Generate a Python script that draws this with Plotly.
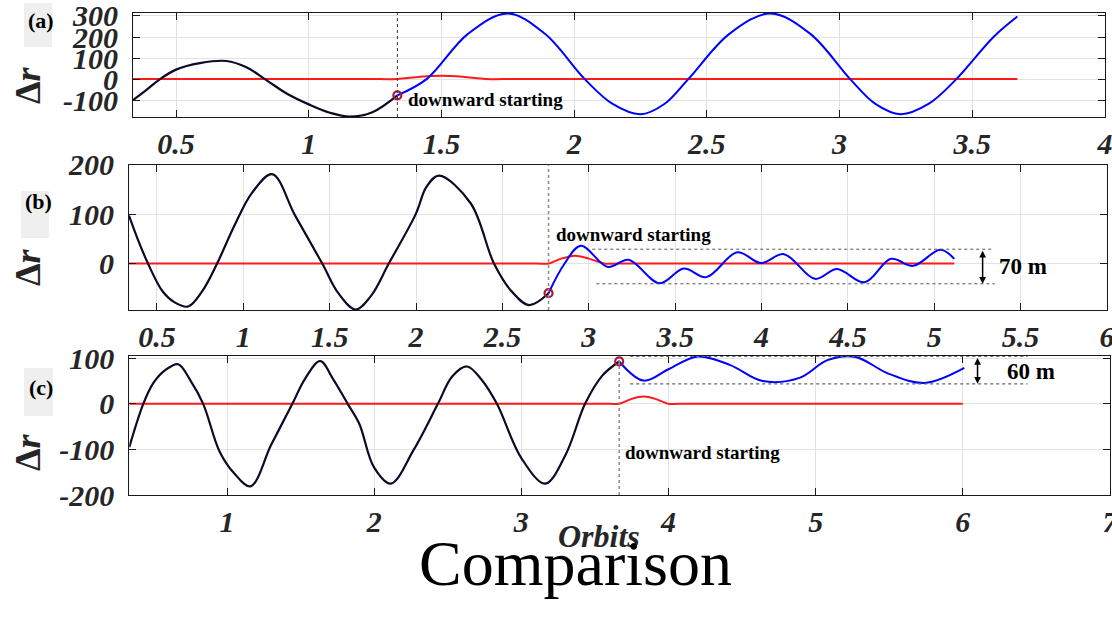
import plotly.graph_objects as go

W, H = 1112, 618

# ---------------- panel (a) ----------------
a_black_x = [0.338, 0.39, 0.44, 0.50, 0.59, 0.69, 0.767, 0.835, 0.92, 1.0, 1.08, 1.154, 1.24, 1.334]
a_black_y = [-100, -50, 0, 45, 76, 86, 55, 0, -71, -120, -160, -178, -157, -77]
a_blue_x = [1.334, 1.444, 1.60, 1.75, 1.89, 2.04, 2.145, 2.25, 2.34, 2.43, 2.585, 2.74, 2.89,
            3.04, 3.135, 3.23, 3.335, 3.44, 3.58, 3.67]
a_blue_y = [-77, 0, 215, 312, 215, 0, -118, -167, -118, 0, 215, 312, 215,
            0, -118, -167, -118, 0, 200, 297]
a_red_x = [0.338, 0.8, 1.27, 1.334, 1.42, 1.50, 1.58, 1.665, 1.73, 2.5, 3.67]
a_red_y = [0, 0, 0, 0, 11, 16, 11, 0, 0, 0, 0]
a_start = (1.334, -77)
a_xticks = [0.5, 1, 1.5, 2, 2.5, 3, 3.5, 4]
a_yticks = [-100, 0, 100, 200, 300]

# ---------------- panel (b) ----------------
b_black_x = [0.338, 0.39, 0.448, 0.53, 0.60, 0.68, 0.76, 0.848, 0.95, 1.05, 1.167, 1.30, 1.457,
             1.55, 1.65, 1.74, 1.842, 1.998, 2.06, 2.132, 2.316, 2.451, 2.55, 2.654, 2.767]
b_black_y = [97, 48, 0, -55, -78, -87, -57, 0, 78, 143, 181, 97, 0,
             -60, -93, -65, 0, 100, 155, 178, 122, 0, -55, -84, -60]
b_blue_x = [2.767, 2.86, 2.954, 3.11, 3.23, 3.41, 3.55, 3.68, 3.86, 3.996, 4.13, 4.31, 4.437,
            4.596, 4.75, 4.878, 5.036, 5.116]
b_blue_y = [-60, 0, 36, -7, 7.5, -40, -10, -27.5, 23, 1, 19, -31, -11,
            -38, 9.5, -4.7, 28, 9.5]
b_red_x = [0.338, 1.2, 2.2, 2.70, 2.767, 2.84, 2.92, 3.0, 3.09, 3.16, 4.0, 5.116]
b_red_y = [0, 0, 0, 0, 0, 10, 16, 10, 0, 0, 0, 0]
b_start = (2.767, -60)
b_band = (-41, 29)          # 70 m envelope
b_xticks = [0.5, 1, 1.5, 2, 2.5, 3, 3.5, 4, 4.5, 5, 5.5, 6]
b_yticks = [0, 100, 200]

# ---------------- panel (c) ----------------
c_black_x = [0.336, 0.431, 0.50, 0.58, 0.668, 0.75, 0.838, 0.95, 1.05, 1.16, 1.30, 1.444, 1.53,
             1.633, 1.72, 1.82, 1.898, 2.0, 2.113, 2.27, 2.433, 2.53, 2.631, 2.73, 2.834,
             3.0, 3.162, 3.30, 3.433, 3.55, 3.665]
c_black_y = [-95, 0, 46, 74, 87, 52, 0, -105, -153, -181, -90, 0, 55,
             94, 55, 0, -43, -140, -175, -100, 0, 60, 82, 53, 0,
             -119, -175, -112, 0, 62, 93]
c_blue_x = [3.665, 3.83, 4.0, 4.2, 4.42, 4.64, 4.89, 5.08, 5.27, 5.49, 5.74, 6.01]
c_blue_y = [93, 51, 76, 104, 85, 50, 57, 96, 103, 67, 46, 79]
c_red_x = [0.336, 1.5, 3.0, 3.60, 3.665, 3.75, 3.83, 3.91, 4.0, 4.07, 5.0, 6.0]
c_red_y = [0, 0, 0, 0, 0, 11, 16, 11, 0, 0, 0, 0]
c_start = (3.665, 93)
c_band = (44, 104)          # 60 m envelope
c_xticks = [1, 2, 3, 4, 5, 6, 7]
c_yticks = [-200, -100, 0, 100]

BLACK = "#0b0b26"
BLUE = "#0000ff"
RED = "#ff1a1a"
RING = "#a8173c"
TXT = "#262626"
GRID = "#e2e2e2"
SERIF = "Liberation Serif"


def fmt(v):
    return f"{v:g}"


def px(x):
    return x / W


def py(y):
    return 1 - y / H


fig = go.Figure()

panels = [
    ("x", "y", a_black_x, a_black_y, a_blue_x, a_blue_y, a_red_x, a_red_y, a_start),
    ("x2", "y2", b_black_x, b_black_y, b_blue_x, b_blue_y, b_red_x, b_red_y, b_start),
    ("x3", "y3", c_black_x, c_black_y, c_blue_x, c_blue_y, c_red_x, c_red_y, c_start),
]

for xr, yr, bx, by, ux, uy, rx, ry, st in panels:
    fig.add_trace(go.Scatter(x=rx, y=ry, mode="lines", xaxis=xr, yaxis=yr,
                             line=dict(color=RED, width=2, shape="spline", smoothing=0.8),
                             hoverinfo="skip", showlegend=False))
    fig.add_trace(go.Scatter(x=bx, y=by, mode="lines", xaxis=xr, yaxis=yr,
                             line=dict(color=BLACK, width=2.2, shape="spline", smoothing=1.0),
                             hoverinfo="skip", showlegend=False))
    fig.add_trace(go.Scatter(x=ux, y=uy, mode="lines", xaxis=xr, yaxis=yr,
                             line=dict(color=BLUE, width=2, shape="spline", smoothing=1.0),
                             hoverinfo="skip", showlegend=False))
    fig.add_trace(go.Scatter(x=[st[0]], y=[st[1]], mode="markers", xaxis=xr, yaxis=yr,
                             marker=dict(symbol="circle-open", size=8, color=RING,
                                         line=dict(width=2.2, color=RING)),
                             hoverinfo="skip", showlegend=False))

tickfont = dict(family=SERIF, size=30, color=TXT, weight="bold", style="italic")


def xaxis(dom, rng, ticks):
    return dict(domain=[px(dom[0]), px(dom[1])], range=rng, tickvals=ticks,
                ticktext=[fmt(t) for t in ticks], tickfont=tickfont,
                showgrid=True, gridcolor=GRID, gridwidth=1, zeroline=False,
                showline=True, linecolor="#1a1a1a", linewidth=1, mirror="ticks",
                ticks="inside", ticklen=7, tickcolor="#1a1a1a", tickwidth=1,
                ticklabelstandoff=0, ticklabeloverflow="allow", fixedrange=True)


def yaxis(dom, rng, ticks, anchor):
    return dict(domain=[py(dom[1]), py(dom[0])], range=rng, tickvals=ticks,
                ticktext=[fmt(t) for t in ticks], tickfont=tickfont, anchor=anchor,
                showgrid=True, gridcolor=GRID, gridwidth=1, zeroline=False,
                showline=True, linecolor="#1a1a1a", linewidth=1, mirror="ticks",
                ticks="inside", ticklen=7, tickcolor="#1a1a1a", tickwidth=1,
                ticklabelstandoff=8, ticklabeloverflow="allow", fixedrange=True)


fig.update_layout(
    width=W, height=H,
    margin=dict(l=0, r=0, t=0, b=0, autoexpand=False),
    paper_bgcolor="white", plot_bgcolor="white", showlegend=False,
    xaxis=xaxis((133, 1105), [0.338, 4.0001], a_xticks) | dict(anchor="y"),
    yaxis=yaxis((13, 117), [-180, 314], a_yticks, "x"),
    xaxis2=xaxis((129, 1107), [0.338, 6.0001], b_xticks) | dict(anchor="y2"),
    yaxis2=yaxis((164.7, 310), [-94, 200], b_yticks, "x2"),
    xaxis3=xaxis((129.3, 1110), [0.336, 7.0001], c_xticks) | dict(anchor="y3"),
    yaxis3=yaxis((356, 495), [-200, 105], c_yticks, "x3"),
)

shapes = []
# start-of-descent markers (vertical dotted lines)
shapes.append(dict(type="line", xref="x", yref="y domain", x0=a_start[0], x1=a_start[0],
                   y0=0, y1=1, line=dict(color="#333333", width=1, dash="dot")))
shapes.append(dict(type="line", xref="x2", yref="y2 domain", x0=b_start[0], x1=b_start[0],
                   y0=0, y1=1, line=dict(color="#8a8a8a", width=1.5, dash="dot")))
shapes.append(dict(type="line", xref="x3", yref="y3 domain", x0=c_start[0], x1=c_start[0],
                   y0=0, y1=1, line=dict(color="#8a8a8a", width=1.5, dash="dot")))
# oscillation envelopes
for y, x0, x1 in [(b_band[1], 3.02, 5.33), (b_band[0], 3.044, 5.35)]:
    shapes.append(dict(type="line", xref="x2", yref="y2", x0=x0, x1=x1, y0=y, y1=y,
                       line=dict(color="#555555", width=1, dash="dot")))
for y in c_band:
    shapes.append(dict(type="line", xref="x3", yref="y3", x0=3.74, x1=6.44, y0=y, y1=y,
                       line=dict(color="#666666", width=1.2, dash="dot")))
# panel tag boxes
for x0, x1, y0, y1 in [(24, 52, 3, 47), (21, 49, 191, 238), (24, 53, 368, 416)]:
    shapes.append(dict(type="rect", xref="paper", yref="paper", x0=px(x0), x1=px(x1),
                       y0=py(y1), y1=py(y0), fillcolor="#efefef", line=dict(width=0),
                       layer="below"))
fig.update_layout(shapes=shapes)

bold = dict(family=SERIF, color="black", weight="bold")
C = dict(xanchor="center", yanchor="middle", showarrow=False)
ann = []
for xr, yr, x, y in [("x", "y", 1.365, -99), ("x2", "y2", 2.80, 58), ("x3", "y3", 3.69, -106)]:
    ann.append(dict(text="downward starting", xref=xr, yref=yr, x=x, y=y,
                    xanchor="left", yanchor="middle", showarrow=False,
                    font=bold | dict(size=19)))
# envelope height arrows and labels
ann.append(dict(text="", xref="x2", yref="y2", axref="x2", ayref="y2",
                x=5.28, y=b_band[0], ax=5.28, ay=b_band[1], showarrow=True,
                arrowside="end+start", arrowhead=2, arrowsize=0.9, arrowwidth=1.5,
                arrowcolor="black"))
ann.append(dict(text=f"{b_band[1] - b_band[0]} m", xref="x2", yref="y2", x=5.515, y=-5,
                font=bold | dict(size=23), **C))
ann.append(dict(text="", xref="x3", yref="y3", axref="x3", ayref="y3",
                x=6.1, y=c_band[0], ax=6.1, ay=c_band[1], showarrow=True,
                arrowside="end+start", arrowhead=2, arrowsize=0.9, arrowwidth=1.5,
                arrowcolor="black"))
ann.append(dict(text=f"{c_band[1] - c_band[0]} m", xref="x3", yref="y3", x=6.46, y=72,
                font=bold | dict(size=23), **C))
# panel tags
for t, x, y in [("(a)", 41, 20.5), ("(b)", 38, 201.5), ("(c)", 41, 387)]:
    ann.append(dict(text=t, xref="paper", yref="paper", x=px(x), y=py(y),
                    font=bold | dict(size=22), **C))
# y titles
for y in [85, 267, 452]:
    ann.append(dict(text="Δ<i>r</i>", xref="paper", yref="paper", x=px(28), y=py(y),
                    textangle=-90, font=dict(family=SERIF, size=36, color=TXT, weight="bold"),
                    **C))
# x title and figure title
ann.append(dict(text="<i>Orbits</i>", xref="paper", yref="paper", x=px(599), y=py(536),
                font=dict(family=SERIF, size=32, color=TXT, weight="bold"), **C))
ann.append(dict(text="Comparison", xref="paper", yref="paper", x=px(575), y=py(563),
                font=dict(family=SERIF, size=64, color="black"), **C))
fig.update_layout(annotations=ann)

fig.write_html("out.html")
